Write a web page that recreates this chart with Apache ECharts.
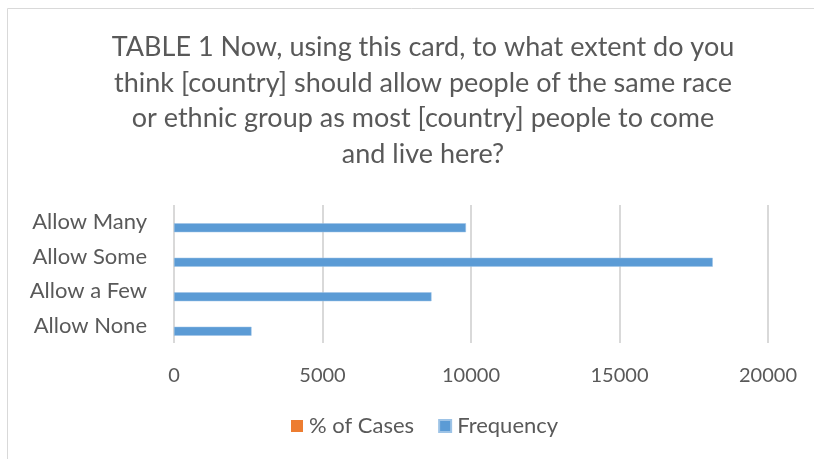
<!DOCTYPE html>
<html>
<head>
<meta charset="utf-8">
<script src="https://cdn.jsdelivr.net/npm/echarts@6/dist/echarts.min.js"></script>
<style>
  html, body { margin: 0; padding: 0; background: #fff; }
  #chart { width: 814px; height: 459px; }
</style>
</head>
<body>
<div id="chart"></div>
<script>
// Response categories, top to bottom
const categories = ['Allow Many', 'Allow Some', 'Allow a Few', 'Allow None'];
// Share of cases (stored as fractions) and respondent counts
const pctOfCases = [0.250, 0.462, 0.221, 0.066];
const frequency = [9830, 18140, 8670, 2610];
const xTicks = [0, 5000, 10000, 15000, 20000];

const titleText = 'TABLE 1 Now, using this card, to what extent do you\n' +
  'think [country] should allow people of the same race\n' +
  'or ethnic group as most [country] people to come\n' +
  'and live here?';

const font = 'Lato';
const textColor = '#595959';

const chart = echarts.init(document.getElementById('chart'));
chart.setOption({
  animation: false,
  graphic: [{
    type: 'rect',
    shape: { x: 7.5, y: 8.5, width: 830, height: 470 },
    style: { fill: 'none', stroke: '#d9d9d9', lineWidth: 1 }
  }],
  title: {
    text: titleText,
    left: 418,
    top: 25,
    textAlign: 'center',
    textStyle: {
      fontFamily: font,
      fontSize: 27,
      fontWeight: 'normal',
      color: textColor,
      lineHeight: 35.5
    }
  },
  legend: {
    data: ['% of Cases', 'Frequency'],
    bottom: 17,
    left: 286,
    itemWidth: 12,
    itemHeight: 12,
    itemGap: 24,
    icon: 'rect',
    textStyle: { fontFamily: font, fontSize: 22, color: textColor, padding: [0, 0, 0, 1] }
  },
  grid: { left: 174, right: 46, top: 205, bottom: 116, containLabel: false },
  xAxis: {
    type: 'value',
    min: xTicks[0],
    max: xTicks[xTicks.length - 1],
    interval: xTicks[1] - xTicks[0],
    axisLine: { show: false },
    axisTick: { show: false },
    splitLine: { lineStyle: { color: '#d9d9d9', width: 2 } },
    axisLabel: {
      fontFamily: font, fontSize: 20, color: textColor, margin: 23,
      formatter: v => String(v)
    }
  },
  yAxis: {
    type: 'category',
    data: categories,
    inverse: true,
    axisLine: { show: false },
    axisTick: { show: false },
    axisLabel: { fontFamily: font, fontSize: 22, color: textColor, margin: 27 }
  },
  series: [
    {
      name: '% of Cases',
      type: 'bar',
      data: pctOfCases,
      barWidth: 9,
      barGap: '22%',
      itemStyle: { color: '#ED7D31' }
    },
    {
      name: 'Frequency',
      type: 'bar',
      data: frequency,
      barWidth: 9,
      barGap: '22%',
      itemStyle: { color: '#5B9BD5', borderColor: '#9dc3e6', borderWidth: 0.5 }
    }
  ]
});
</script>
</body>
</html>
